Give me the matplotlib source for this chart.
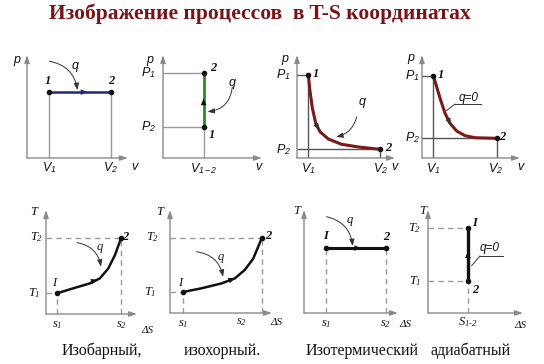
import matplotlib
matplotlib.use("Agg")
import matplotlib.pyplot as plt

plt.rcParams['mathtext.fontset'] = 'custom'
plt.rcParams['mathtext.it'] = 'Liberation Serif:italic'
plt.rcParams['mathtext.rm'] = 'Liberation Serif:italic'
plt.rcParams['mathtext.sf'] = 'Liberation Sans:italic'

W, H = 544, 364
fig = plt.figure(figsize=(W / 100, H / 100), dpi=100)

title = "Изображение процессов  в T-S координатах"
captions = ["Изобарный,", "изохорный.", "Изотермический", "адиабатный"]

# p-v diagrams
isobar_v = [2.2, 8.3]
isobar_p = [6.4, 6.4]
isochor_v = [4.1, 4.1]
isochor_p = [3.0, 8.25]
isotherm_v = [1.15, 1.33, 1.57, 1.91, 2.35, 3.2, 4.56, 6.26, 8.5]
isotherm_p = [8.1, 6.47, 4.83, 3.37, 2.55, 1.84, 1.33, 1.07, 0.84]
adiab_v = [1.15, 1.5, 1.9, 2.35, 2.86, 3.54, 4.39, 5.41, 7.62]
adiab_p = [8.0, 6.9, 5.63, 4.34, 3.37, 2.62, 2.17, 1.97, 1.91]

# T-s diagrams
ts_isobar_s = [1.24, 3.0, 4.84, 5.93, 6.85, 7.58, 8.25]
ts_isobar_T = [2.0, 2.47, 2.95, 3.43, 4.39, 5.67, 7.3]
ts_isochor_s = [1.27, 3.1, 5.07, 6.37, 7.35, 8.17, 9.0]
ts_isochor_T = [2.04, 2.4, 2.88, 3.37, 4.2, 5.3, 7.28]
ts_isotherm_s = [2.34, 8.7]
ts_isotherm_T = [6.3, 6.3]
ts_adiab_s = [4.2, 4.2]
ts_adiab_T = [3.1, 8.25]

AX = '#8a8a8a'
GUIDE = '#9a9a9a'
SANS = 'Liberation Sans'
SERIF = 'Liberation Serif'


def make_panel(x0, y0, x1, y1):
    ax = fig.add_axes([x0 / W, 1 - y0 / H, (x1 - x0) / W, (y0 - y1) / H])
    ax.set_xlim(0, 10)
    ax.set_ylim(0, 10)
    ax.axis('off')
    for end in [(10, 0), (0, 10)]:
        ax.annotate('', xy=end, xytext=(0, 0),
                    arrowprops=dict(arrowstyle='-|>,head_length=0.45,head_width=0.15',
                                    color=AX, lw=1.0, shrinkA=0, shrinkB=0))
    return ax


def label(ax, x, y, s, size=8, family=SANS, style='italic', weight='normal', ha='center'):
    ax.text(x, y, s, fontsize=size, family=family, style=style, weight=weight,
            ha=ha, va='center', color='#111111')


def leader(ax, start, end, rad):
    ax.annotate('', xy=end, xytext=start,
                arrowprops=dict(arrowstyle='-|>,head_length=0.4,head_width=0.15',
                                connectionstyle='arc3,rad=%s' % rad,
                                color='#333333', lw=0.7, shrinkA=0, shrinkB=0))


def mark(ax, xs, ys, i, color):
    ax.annotate('', xy=(xs[i + 1], ys[i + 1]), xytext=(xs[i], ys[i]),
                arrowprops=dict(arrowstyle='-|>,head_length=0.5,head_width=0.2',
                                color=color, lw=0, shrinkA=0, shrinkB=0))


fig.text(260 / W, 1 - 14 / H, title, ha='center', va='center', fontsize=15.5,
         family=SERIF, weight='bold', color='#7a1418')

# --- panel 1: isobaric p-v
ax = make_panel(27, 158, 128, 55)
c = '#1f2a7a'
for v in isobar_v:
    ax.plot([v, v], [0, isobar_p[0]], color=GUIDE, lw=1)
ax.plot(isobar_v, isobar_p, color=c, lw=1.8)
ax.plot(isobar_v, isobar_p, 'o', color='#111111', ms=3)
mark(ax, [5.6, 6.0], [6.4, 6.4], 0, c)
leader(ax, (2.2, 9.4), (5.0, 6.6), -0.35)
label(ax, -1.0, 9.5, 'p', 9)
label(ax, 2.1, 7.5, '1', 9, SERIF, weight='bold')
label(ax, 8.3, 7.5, '2', 9, SERIF, weight='bold')
label(ax, 4.75, 8.9, 'q', 9)
label(ax, 2.2, -0.9, r'$\mathsf{V}_\mathsf{1}$', 9)
label(ax, 8.3, -0.9, r'$\mathsf{V}_\mathsf{2}$', 9)
label(ax, 10.6, -0.9, 'v', 9)

# --- panel 2: isochoric p-v
ax = make_panel(163, 158, 262, 55)
c = '#2a8c2a'
for p in isochor_p:
    ax.plot([0, isochor_v[0]], [p, p], color=GUIDE, lw=1)
ax.plot([isochor_v[0], isochor_v[0]], [0, isochor_p[1]], color=GUIDE, lw=1)
ax.plot(isochor_v, isochor_p, color=c, lw=2)
ax.plot(isochor_v, isochor_p, 'o', color='#111111', ms=3)
mark(ax, [4.1, 4.1], [5.3, 5.8], 0, '#111111')
leader(ax, (7.0, 6.9), (4.5, 4.5), -0.4)
label(ax, -1.3, 9.5, 'p', 9)
label(ax, -1.5, 8.25, r'$\mathsf{P}_\mathsf{1}$', 9)
label(ax, -1.5, 3.0, r'$\mathsf{P}_\mathsf{2}$', 9)
label(ax, 5.05, 8.7, '2', 9, SERIF, weight='bold')
label(ax, 4.95, 2.2, '1', 9, SERIF, weight='bold')
label(ax, 7.0, 7.3, 'q', 9)
label(ax, 4.1, -1.0, r'$\mathsf{V}_\mathsf{1-2}$', 9)
label(ax, 9.6, -0.9, 'v', 9)

# --- panel 3: isothermal p-v
ax = make_panel(297, 158, 395, 55)
c = '#7a1a1a'
ax.plot([0, isotherm_v[0]], [isotherm_p[0]] * 2, color='#555555', lw=1)
ax.plot([isotherm_v[0]] * 2, [0, isotherm_p[0]], color='#555555', lw=1)
ax.plot([0, isotherm_v[-1]], [isotherm_p[-1]] * 2, color='#555555', lw=1)
ax.plot([isotherm_v[-1]] * 2, [0, isotherm_p[-1]], color='#555555', lw=1)
ax.plot(isotherm_v, isotherm_p, color=c, lw=2.2, solid_joinstyle='round')
ax.plot([isotherm_v[0], isotherm_v[-1]], [isotherm_p[0], isotherm_p[-1]], 'o', color='#111111', ms=3)
mark(ax, [1.95, 2.25], [3.25, 2.7], 0, '#333333')
leader(ax, (6.1, 4.0), (4.0, 2.05), -0.3)
label(ax, -1.2, 9.6, 'p', 9)
label(ax, -1.4, 8.05, r'$\mathsf{P}_\mathsf{1}$', 9)
label(ax, -1.4, 0.8, r'$\mathsf{P}_\mathsf{2}$', 9)
label(ax, 1.9, 8.15, '1', 9, SERIF, weight='bold')
label(ax, 9.3, 1.0, '2', 9, SERIF, weight='bold')
label(ax, 6.6, 5.4, 'q', 9)
label(ax, 1.15, -1.0, r'$\mathsf{V}_\mathsf{1}$', 9)
label(ax, 8.5, -1.0, r'$\mathsf{V}_\mathsf{2}$', 9)
label(ax, 9.9, -0.9, 'v', 9)

# --- panel 4: adiabatic p-v
ax = make_panel(422, 158, 520, 55)
ax.plot([0, adiab_v[0]], [adiab_p[0]] * 2, color='#555555', lw=1)
ax.plot([adiab_v[0]] * 2, [0, adiab_p[0]], color='#555555', lw=1)
ax.plot([0, adiab_v[-1]], [adiab_p[-1]] * 2, color='#555555', lw=1)
ax.plot([adiab_v[-1]] * 2, [0, adiab_p[-1]], color='#555555', lw=1)
ax.plot(adiab_v, adiab_p, color=c, lw=2.2, solid_joinstyle='round')
ax.plot([adiab_v[0], adiab_v[-1]], [adiab_p[0], adiab_p[-1]], 'o', color='#111111', ms=3)
mark(ax, [2.75, 2.95], [3.6, 3.2], 0, '#333333')
ax.plot([3.37, 6.0], [5.24, 5.24], color='#333333', lw=0.7)
ax.plot([3.37, 2.5], [5.24, 4.6], color='#333333', lw=0.7)
label(ax, -1.1, 9.7, 'p', 9)
label(ax, -1.0, 8.0, r'$\mathsf{P}_\mathsf{1}$', 9)
label(ax, -1.0, 2.0, r'$\mathsf{P}_\mathsf{2}$', 9)
label(ax, 1.9, 8.1, '1', 9, SERIF, weight='bold')
label(ax, 8.15, 2.05, '2', 9, SERIF, weight='bold')
label(ax, 4.7, 5.85, 'q=0', 8.5)
label(ax, 1.2, -1.0, r'$\mathsf{V}_\mathsf{1}$', 9)
label(ax, 7.55, -1.0, r'$\mathsf{V}_\mathsf{2}$', 9)
label(ax, 10.0, -0.9, 'v', 9)

DASH = (0, (4, 3))

# --- panel 5: isobaric T-s
ax = make_panel(46, 314, 137, 210)
s, T = ts_isobar_s, ts_isobar_T
ax.plot([0, s[-1]], [T[-1]] * 2, color=GUIDE, lw=1, ls=DASH)
ax.plot([s[-1]] * 2, [0, T[-1]], color=GUIDE, lw=1, ls=DASH)
ax.plot([0, s[0]], [T[0]] * 2, color=GUIDE, lw=1, ls=DASH)
ax.plot([s[0]] * 2, [0, T[0]], color=GUIDE, lw=1, ls=DASH)
ax.plot(s, T, color='#111111', lw=1.8)
ax.plot([s[0], s[-1]], [T[0], T[-1]], 'o', color='#111111', ms=3)
mark(ax, [5.2, 5.7], [3.17, 3.3], 0, '#111111')
leader(ax, (3.4, 6.86), (6.04, 4.55), -0.35)
label(ax, -1.3, 9.8, 'T', 9, SERIF)
label(ax, -1.0, 7.4, r'$T_2$', 9, SERIF)
label(ax, -1.3, 2.0, r'$T_1$', 9, SERIF)
label(ax, 0.9, 3.0, 'I', 9, SERIF)
label(ax, 8.7, 7.4, '2', 9, SERIF, weight='bold')
label(ax, 5.9, 6.45, 'q', 9, SERIF)
label(ax, 1.2, -1.05, r'$s_1$', 9, SERIF)
label(ax, 8.25, -1.05, r'$s_2$', 9, SERIF)
label(ax, 11.1, -1.6, 'ΔS', 8, SERIF)

# --- panel 6: isochoric T-s
ax = make_panel(170, 313, 272, 210)
s, T = ts_isochor_s, ts_isochor_T
ax.plot([0, s[-1]], [T[-1]] * 2, color=GUIDE, lw=1, ls=DASH)
ax.plot([s[-1]] * 2, [0, T[-1]], color=GUIDE, lw=1, ls=DASH)
ax.plot([0, s[0]], [T[0]] * 2, color=GUIDE, lw=1, ls=DASH)
ax.plot([s[0]] * 2, [0, T[0]], color=GUIDE, lw=1, ls=DASH)
ax.plot(s, T, color='#111111', lw=1.8)
ax.plot([s[0], s[-1]], [T[0], T[-1]], 'o', color='#111111', ms=3)
mark(ax, [5.9, 6.4], [3.2, 3.4], 0, '#111111')
leader(ax, (2.6, 5.95), (5.2, 3.52), -0.35)
label(ax, -1.0, 9.8, 'T', 9, SERIF)
label(ax, -1.75, 7.4, r'$T_2$', 9, SERIF)
label(ax, -1.95, 2.05, r'$T_1$', 9, SERIF)
label(ax, 1.0, 2.9, 'I', 9, SERIF)
label(ax, 9.6, 7.5, '2', 9, SERIF, weight='bold')
label(ax, 5.0, 5.45, 'q', 9, SERIF)
label(ax, 1.27, -1.05, r'$s_1$', 9, SERIF)
label(ax, 7.06, -0.9, r'$s_2$', 9, SERIF)
label(ax, 10.4, -0.9, 'ΔS', 8, SERIF)

# --- panel 7: isothermal T-s
ax = make_panel(304, 313, 398, 210)
s, T = ts_isotherm_s, ts_isotherm_T
for x in s:
    ax.plot([x, x], [0, T[0]], color=GUIDE, lw=1, ls=DASH)
ax.plot(s, T, color='#111111', lw=2.2)
ax.plot(s, T, 'o', color='#111111', ms=3)
mark(ax, [5.6, 6.1], [6.3, 6.3], 0, '#111111')
leader(ax, (2.4, 9.35), (5.18, 6.5), -0.35)
label(ax, -0.75, 9.9, 'T', 9, SERIF)
label(ax, 2.34, 7.5, 'I', 9, SERIF, weight='bold')
label(ax, 8.8, 7.4, '2', 9, SERIF, weight='bold')
label(ax, 4.9, 9.0, 'q', 9, SERIF)
label(ax, 2.34, -1.05, r'$s_1$', 9, SERIF)
label(ax, 8.7, -1.05, r'$s_2$', 9, SERIF)
label(ax, 10.75, -1.15, 'ΔS', 8, SERIF)

# --- panel 8: adiabatic T-s
ax = make_panel(428, 313, 523, 210)
s, T = ts_adiab_s, ts_adiab_T
for t in T:
    ax.plot([0, s[0]], [t, t], color=GUIDE, lw=1, ls=DASH)
ax.plot([s[0]] * 2, [0, T[0]], color=GUIDE, lw=1, ls=DASH)
ax.plot(s, T, color='#111111', lw=2.4)
ax.plot(s, T, 'o', color='#111111', ms=3)
mark(ax, [4.2, 4.2], [5.5, 6.0], 0, '#111111')
ax.plot([5.47, 7.9], [5.53, 5.53], color='#333333', lw=0.7)
ax.plot([5.47, 4.6], [5.53, 4.6], color='#333333', lw=0.7)
label(ax, -0.6, 9.9, 'T', 9, SERIF)
label(ax, -1.4, 8.25, r'$T_2$', 9, SERIF)
label(ax, -1.4, 3.1, r'$T_1$', 9, SERIF)
label(ax, 4.95, 8.75, 'I', 9, SERIF, weight='bold')
label(ax, 4.95, 2.25, '2', 9, SERIF, weight='bold')
label(ax, 6.5, 6.3, 'q=0', 8.5)
label(ax, 4.2, -0.9, r'$S_{1\text{-}2}$', 9, SERIF)
label(ax, 9.7, -1.25, 'ΔS', 8, SERIF)

# captions
for x, t in zip([102, 222, 362, 471], captions):
    fig.text(x / W, 1 - 351 / H, t, ha='center', va='center', fontsize=11.5,
             family=SERIF, color='#111111')

fig.savefig('out.png', dpi=100)
